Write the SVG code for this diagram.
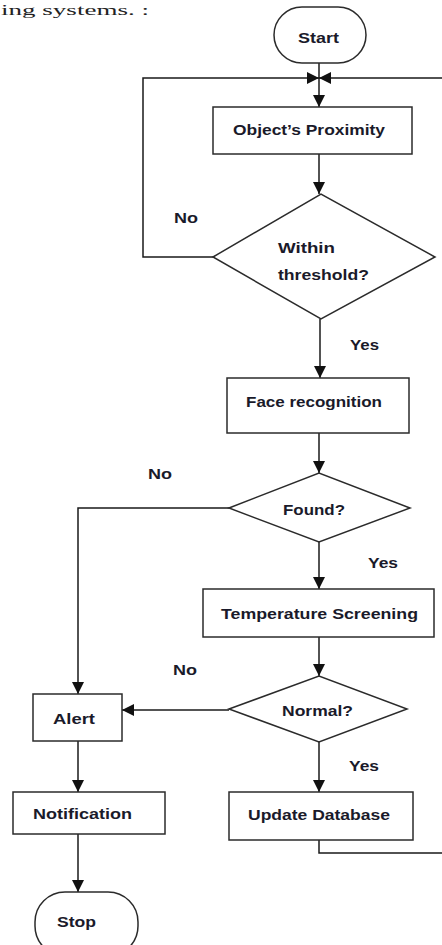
<svg xmlns="http://www.w3.org/2000/svg" width="442" height="945" viewBox="0 0 442 945">
<style>
.s{fill:#fff;stroke:#2b2b2b;stroke-width:1.5}
.t{font-family:"Liberation Sans",Arial,sans-serif;font-weight:bold;font-size:15px;fill:#1a1a2a}
.c{fill:none;stroke:#1a1a1a;stroke-width:1.5}
.cap{font-family:"Liberation Serif","Times New Roman",serif;font-size:15px;fill:#222}
</style>
<defs>
<marker id="ah" markerUnits="userSpaceOnUse" markerWidth="14" markerHeight="14" refX="12" refY="6" orient="auto">
<path d="M0,0 L12,6 L0,12 Z" fill="#111"/>
</marker>
</defs>
<text class="cap" x="1" y="15" textLength="148" lengthAdjust="spacingAndGlyphs">ing systems. :</text>
<g id="connectors">
<path class="c" d="M319,63 V107" marker-end="url(#ah)"/>
<path class="c" d="M213,257 H143 V78 H319" marker-end="url(#ah)"/>
<path class="c" d="M319,840 V853 H448 V78 H319" marker-end="url(#ah)"/>
<path class="c" d="M319,154 V194" marker-end="url(#ah)"/>
<path class="c" d="M320,319 V378" marker-end="url(#ah)"/>
<path class="c" d="M319,433 V473" marker-end="url(#ah)"/>
<path class="c" d="M229,508 H78 V694" marker-end="url(#ah)"/>
<path class="c" d="M319,542 V589" marker-end="url(#ah)"/>
<path class="c" d="M319,637 V676" marker-end="url(#ah)"/>
<path class="c" d="M229,710 H122" marker-end="url(#ah)"/>
<path class="c" d="M319,742 V792" marker-end="url(#ah)"/>
<path class="c" d="M78,741 V792" marker-end="url(#ah)"/>
<path class="c" d="M78,834 V892" marker-end="url(#ah)"/>
<text class="t" x="174" y="223" textLength="24" lengthAdjust="spacingAndGlyphs">No</text>
<text class="t" x="350" y="350" textLength="29" lengthAdjust="spacingAndGlyphs">Yes</text>
<text class="t" x="148" y="479" textLength="24" lengthAdjust="spacingAndGlyphs">No</text>
<text class="t" x="368" y="568" textLength="30" lengthAdjust="spacingAndGlyphs">Yes</text>
<text class="t" x="173" y="675" textLength="24" lengthAdjust="spacingAndGlyphs">No</text>
<text class="t" x="349" y="771" textLength="30" lengthAdjust="spacingAndGlyphs">Yes</text>
</g>
<g id="start">
<rect class="s" x="274" y="7" width="92" height="56" rx="28"/>
<text class="t" x="298" y="43" textLength="41" lengthAdjust="spacingAndGlyphs">Start</text>
</g>
<g id="proximity">
<rect class="s" x="213" y="107" width="199" height="47"/>
<text class="t" x="233" y="135" textLength="152" lengthAdjust="spacingAndGlyphs">Object’s Proximity</text>
</g>
<g id="threshold">
<polygon class="s" points="213,257 321,194 435,257 321,319"/>
<text class="t" x="278" y="253" textLength="57" lengthAdjust="spacingAndGlyphs">Within</text>
<text class="t" x="278" y="280" textLength="91" lengthAdjust="spacingAndGlyphs">threshold?</text>
</g>
<g id="face">
<rect class="s" x="227" y="378" width="182" height="55"/>
<text class="t" x="246" y="407" textLength="136" lengthAdjust="spacingAndGlyphs">Face recognition</text>
</g>
<g id="found">
<polygon class="s" points="229,508 319,473 410,508 319,542"/>
<text class="t" x="283" y="515" textLength="62" lengthAdjust="spacingAndGlyphs">Found?</text>
</g>
<g id="temperature">
<rect class="s" x="203" y="589" width="231" height="48"/>
<text class="t" x="221" y="619" textLength="197" lengthAdjust="spacingAndGlyphs">Temperature Screening</text>
</g>
<g id="normal">
<polygon class="s" points="229,709 319,676 407,709 319,742"/>
<text class="t" x="282" y="716" textLength="71" lengthAdjust="spacingAndGlyphs">Normal?</text>
</g>
<g id="alert">
<rect class="s" x="33" y="694" width="89" height="47"/>
<text class="t" x="53" y="724" textLength="42" lengthAdjust="spacingAndGlyphs">Alert</text>
</g>
<g id="update">
<rect class="s" x="229" y="792" width="184" height="48"/>
<text class="t" x="248" y="820" textLength="142" lengthAdjust="spacingAndGlyphs">Update Database</text>
</g>
<g id="notification">
<rect class="s" x="13" y="792" width="152" height="42"/>
<text class="t" x="33" y="819" textLength="99" lengthAdjust="spacingAndGlyphs">Notification</text>
</g>
<g id="stop">
<rect class="s" x="35" y="892" width="103" height="64" rx="30"/>
<text class="t" x="57" y="927" textLength="39" lengthAdjust="spacingAndGlyphs">Stop</text>
</g>
</svg>
